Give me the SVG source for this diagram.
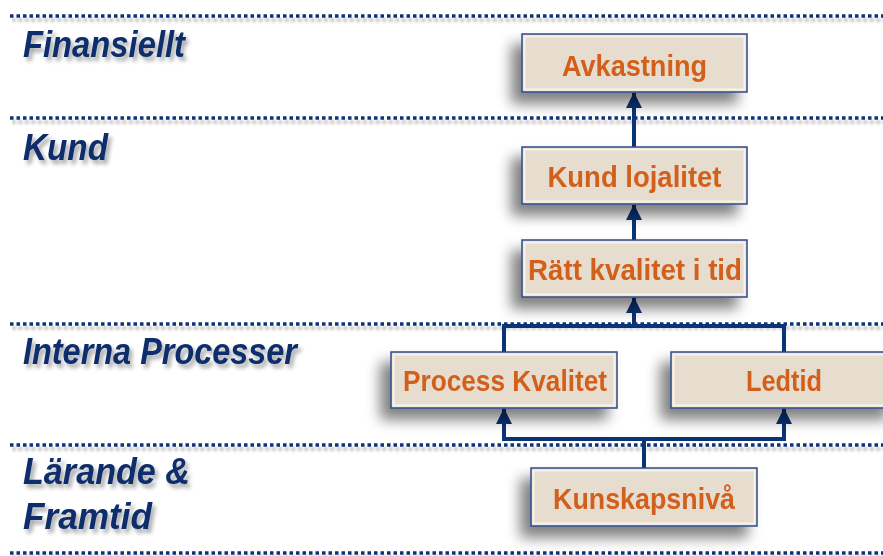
<svg xmlns="http://www.w3.org/2000/svg" width="883" height="556" viewBox="0 0 883 556">
<defs>
<filter id="bshadow" x="-25%" y="-40%" width="150%" height="190%">
<feGaussianBlur in="SourceAlpha" stdDeviation="7"/>
<feOffset dx="-10" dy="11" result="b"/>
<feComponentTransfer><feFuncA type="linear" slope="0.5"/></feComponentTransfer>
<feMerge><feMergeNode/><feMergeNode in="SourceGraphic"/></feMerge>
</filter>
<filter id="tshadow" x="-10%" y="-20%" width="130%" height="160%">
<feGaussianBlur in="SourceAlpha" stdDeviation="2"/>
<feOffset dx="3" dy="4" result="b"/>
<feComponentTransfer><feFuncA type="linear" slope="0.35"/></feComponentTransfer>
<feMerge><feMergeNode/><feMergeNode in="SourceGraphic"/></feMerge>
</filter>
<filter id="lshadow" x="0" y="-200%" width="100%" height="500%">
<feGaussianBlur in="SourceAlpha" stdDeviation="1.5"/>
<feOffset dx="2" dy="4" result="b"/>
<feComponentTransfer><feFuncA type="linear" slope="0.3"/></feComponentTransfer>
<feMerge><feMergeNode/><feMergeNode in="SourceGraphic"/></feMerge>
</filter>
<marker id="arr" markerWidth="16" markerHeight="16" viewBox="0 0 16 16" refX="15" refY="8" orient="auto" markerUnits="userSpaceOnUse">
<path d="M0,0 L16,8 L0,16 Z" fill="#0B3378"/>
</marker>
</defs>
<style>
.lane{stroke:#0B3378;stroke-width:3.5;stroke-dasharray:3.5 3;fill:none}
.lbl{font-family:"Liberation Sans",Arial,sans-serif;font-weight:bold;font-style:italic;font-size:37px;fill:#0D2D6B}
.box{fill:#E7DDCF;stroke:#2E4A8A;stroke-width:1.5}
.bevel{fill:none;stroke:#F7F2EA;stroke-width:2}
.ntxt{font-family:"Liberation Sans",Arial,sans-serif;font-weight:bold;font-size:30px;fill:#D2601A;text-anchor:middle}
.con{stroke:#0B3378;stroke-width:4;fill:none}
</style>
<rect width="883" height="556" fill="#FFFFFF"/>
<g id="lanes" filter="url(#lshadow)">
<line class="lane" x1="10" y1="16" x2="883" y2="16"/>
<line class="lane" x1="10" y1="118" x2="883" y2="118"/>
<line class="lane" x1="10" y1="324" x2="883" y2="324"/>
<line class="lane" x1="10" y1="445" x2="883" y2="445"/>
<line class="lane" x1="10" y1="553" x2="883" y2="553"/>
</g>
<g id="lane-labels" filter="url(#tshadow)">
<text class="lbl" x="23" y="57" textLength="162" lengthAdjust="spacingAndGlyphs">Finansiellt</text>
<text class="lbl" x="23" y="160" textLength="85" lengthAdjust="spacingAndGlyphs">Kund</text>
<text class="lbl" x="23" y="364" textLength="274" lengthAdjust="spacingAndGlyphs">Interna Processer</text>
<text class="lbl" x="23" y="484" textLength="167" lengthAdjust="spacingAndGlyphs">Lärande &amp;</text>
<text class="lbl" x="23" y="529" textLength="129" lengthAdjust="spacingAndGlyphs">Framtid</text>
</g>
<g id="connectors">
<path class="con" d="M634,147 L634,93" marker-end="url(#arr)"/>
<path class="con" d="M634,240 L634,205" marker-end="url(#arr)"/>
<path class="con" d="M634,326 L634,298" marker-end="url(#arr)"/>
<path class="con" d="M504,352 L504,326 L784,326 L784,352"/>
<path class="con" d="M644,468 L644,439"/>
<path class="con" d="M644,439 L504,439 L504,409" marker-end="url(#arr)"/>
<path class="con" d="M644,439 L784,439 L784,409" marker-end="url(#arr)"/>
</g>
<g id="avkastning" filter="url(#bshadow)">
<rect class="box" x="522" y="34" width="225" height="58"/>
<rect class="bevel" x="524.5" y="36.5" width="220" height="53"/>
<text class="ntxt" x="634.5" y="76" textLength="145" lengthAdjust="spacingAndGlyphs">Avkastning</text>
</g>
<g id="kund-lojalitet" filter="url(#bshadow)">
<rect class="box" x="522" y="147" width="225" height="57"/>
<rect class="bevel" x="524.5" y="149.5" width="220" height="52"/>
<text class="ntxt" x="634.5" y="187" textLength="174" lengthAdjust="spacingAndGlyphs">Kund lojalitet</text>
</g>
<g id="ratt-kvalitet" filter="url(#bshadow)">
<rect class="box" x="522" y="240" width="225" height="57"/>
<rect class="bevel" x="524.5" y="242.5" width="220" height="52"/>
<text class="ntxt" x="635" y="280" textLength="214" lengthAdjust="spacingAndGlyphs">Rätt kvalitet i tid</text>
</g>
<g id="process-kvalitet" filter="url(#bshadow)">
<rect class="box" x="391" y="352" width="226" height="56"/>
<rect class="bevel" x="393.5" y="354.5" width="221" height="51"/>
<text class="ntxt" x="505" y="391" textLength="204" lengthAdjust="spacingAndGlyphs">Process Kvalitet</text>
</g>
<g id="ledtid" filter="url(#bshadow)">
<rect class="box" x="671" y="352" width="226" height="56"/>
<rect class="bevel" x="673.5" y="354.5" width="221" height="51"/>
<text class="ntxt" x="784" y="391" textLength="76" lengthAdjust="spacingAndGlyphs">Ledtid</text>
</g>
<g id="kunskapsniva" filter="url(#bshadow)">
<rect class="box" x="531" y="468" width="226" height="58"/>
<rect class="bevel" x="533.5" y="470.5" width="221" height="53"/>
<text class="ntxt" x="644" y="509" textLength="182" lengthAdjust="spacingAndGlyphs">Kunskapsnivå</text>
</g>
</svg>
